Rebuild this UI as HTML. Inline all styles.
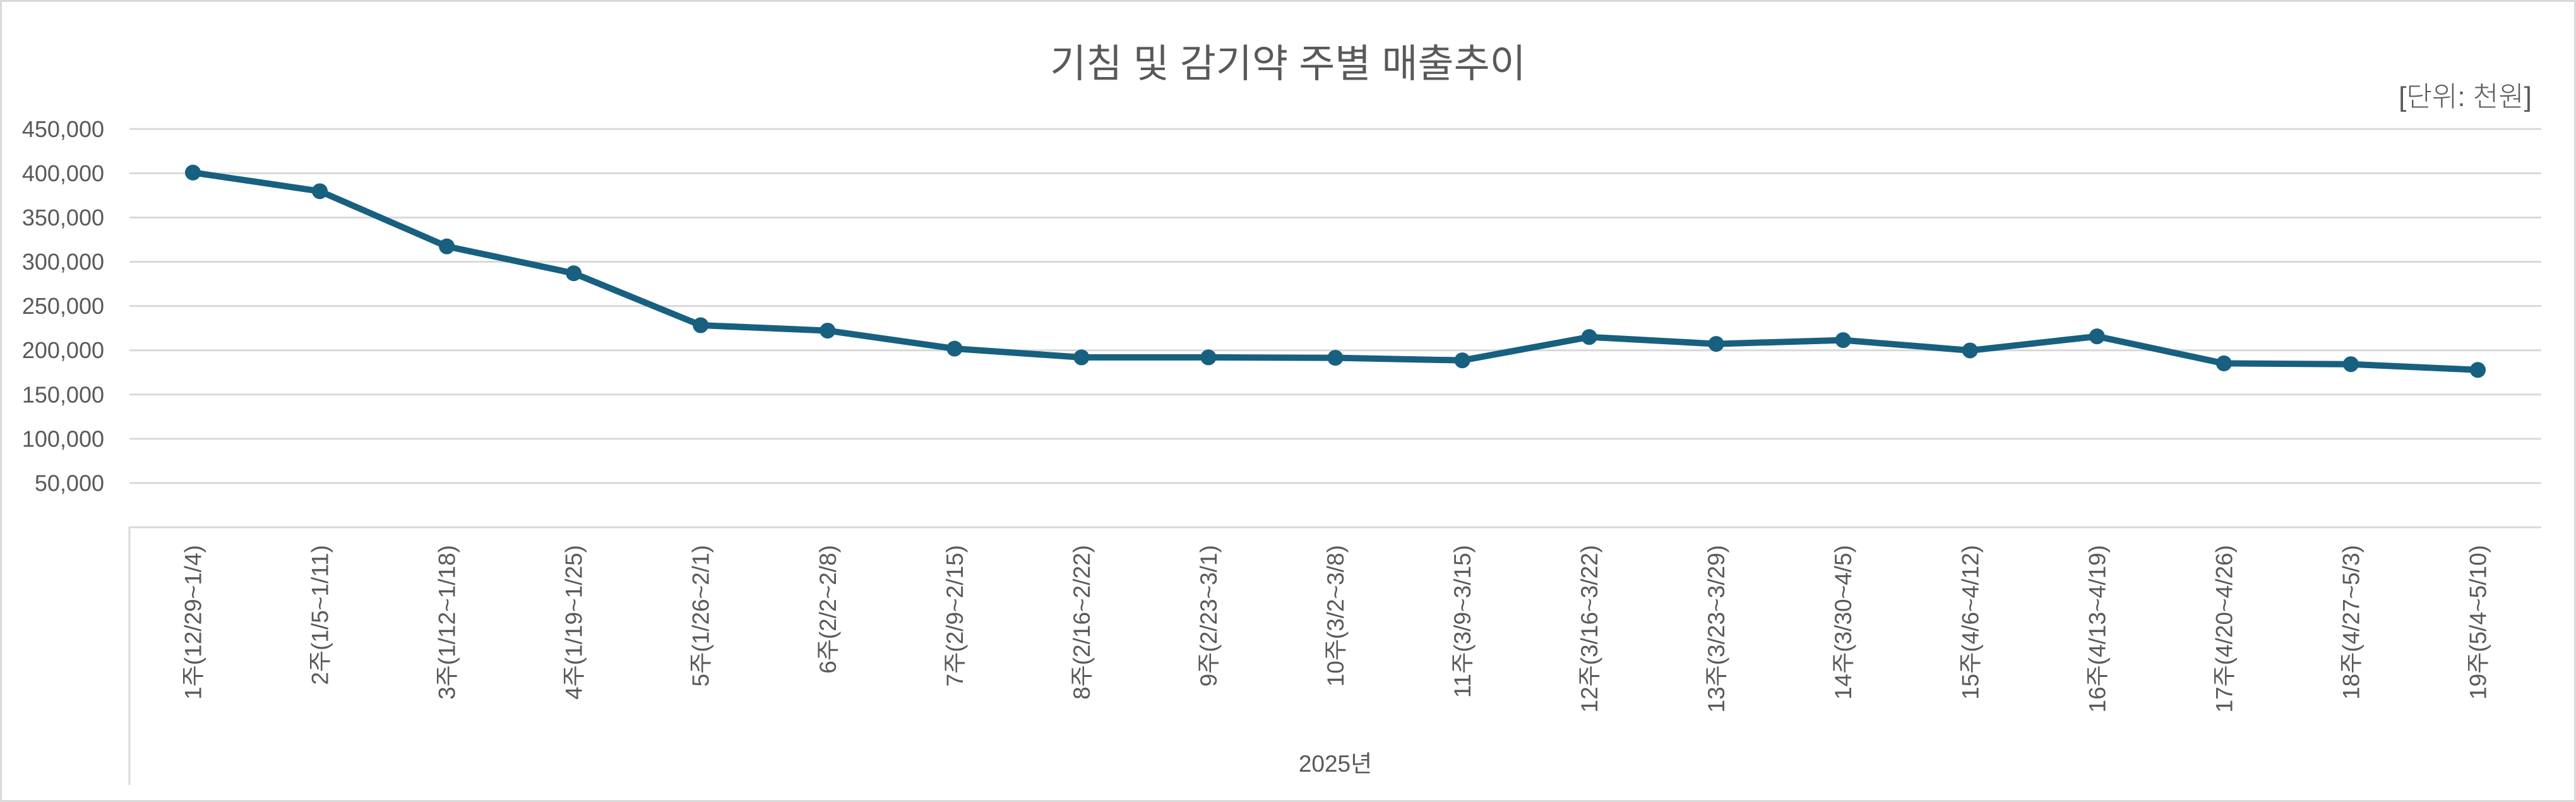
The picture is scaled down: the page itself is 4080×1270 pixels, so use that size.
<!DOCTYPE html>
<html><head><meta charset="utf-8"><style>
html,body{margin:0;padding:0;background:#fff;}
svg{display:block;}
text{font-family:"Liberation Sans","Noto Sans CJK KR",sans-serif;fill:#595959;}
</style></head><body>
<svg id="chart" width="4080" height="1270" viewBox="0 0 4080 1270" xmlns="http://www.w3.org/2000/svg">
<rect x="1.5" y="1.5" width="4077" height="1267" fill="#fff" stroke="#d9d9d9" stroke-width="3"/>
<text x="2040" y="122" font-size="62" text-anchor="middle">기침 및 감기약 주별 매출추이</text>
<text x="4010" y="168" font-size="44" text-anchor="end" style="font-weight:300">[단위: 천원]</text>
<g id="grid"></g>
<g id="yaxis"></g>
<g id="xaxis"></g>
<g id="series"></g>
<text x="2115" y="1222" font-size="37" text-anchor="middle">2025년</text>
</svg>
<script>
const categories = ["1주(12/29~1/4)","2주(1/5~1/11)","3주(1/12~1/18)","4주(1/19~1/25)","5주(1/26~2/1)","6주(2/2~2/8)","7주(2/9~2/15)","8주(2/16~2/22)","9주(2/23~3/1)","10주(3/2~3/8)","11주(3/9~3/15)","12주(3/16~3/22)","13주(3/23~3/29)","14주(3/30~4/5)","15주(4/6~4/12)","16주(4/13~4/19)","17주(4/20~4/26)","18주(4/27~5/3)","19주(5/4~5/10)"];
const salesValues = [400800,379700,317400,287000,228300,222200,201900,192000,192000,191500,188600,215000,207200,211500,199800,215700,185200,184300,177800];
const yTicks = [50000,100000,150000,200000,250000,300000,350000,400000,450000];
const yTickLabels = ["50,000","100,000","150,000","200,000","250,000","300,000","350,000","400,000","450,000"];

const NS = "http://www.w3.org/2000/svg";
const plotL = 205, plotR = 4025, plotTop = 204.3, plotBottom = 835, yMax = 450000;
function yScale(v){ return plotBottom - v / yMax * (plotBottom - plotTop); }
function xScale(i){ const w = (plotR - plotL) / categories.length; return plotL + w * (i + 0.5); }
function mk(tag, attrs, parent){ const e = document.createElementNS(NS, tag); for (const k in attrs) e.setAttribute(k, attrs[k]); parent.appendChild(e); return e; }

const grid = document.getElementById('grid'), yaxis = document.getElementById('yaxis'), xaxis = document.getElementById('xaxis'), series = document.getElementById('series');
yTicks.forEach((t, i) => {
  const y = yScale(t);
  const ln = mk('line', {x1: plotL, x2: plotR, y1: y, y2: y, stroke: '#d9d9d9', 'stroke-width': 3}, grid);
  
  
  const tx = mk('text', {x: 165, y: y + 12.5, 'font-size': 36, 'text-anchor': 'end'}, yaxis);
  tx.textContent = yTickLabels[i];
  
  
});
const axisLine = mk('path', {d: `M${plotL},1243 L${plotL},${plotBottom} L${plotR},${plotBottom}`, fill: 'none', stroke: '#d9d9d9', 'stroke-width': 3}, xaxis);


categories.forEach((c, i) => {
  const x = xScale(i) + 13;
  const tx = mk('text', {x: x, y: 863, 'font-size': 37, 'text-anchor': 'end', transform: `rotate(-90 ${x} 863)`}, xaxis);
  tx.textContent = c;
  
  
});
const pts = salesValues.map((v, i) => xScale(i) + ',' + yScale(v)).join(' ');
const pl = mk('polyline', {points: pts, fill: 'none', stroke: '#17607f', 'stroke-width': 10, 'stroke-linejoin': 'round'}, series);


salesValues.forEach((v, i) => {
  const c = mk('circle', {cx: xScale(i), cy: yScale(v), r: 12.5, fill: '#17607f'}, series);
  
  
});
</script>
</body></html>
